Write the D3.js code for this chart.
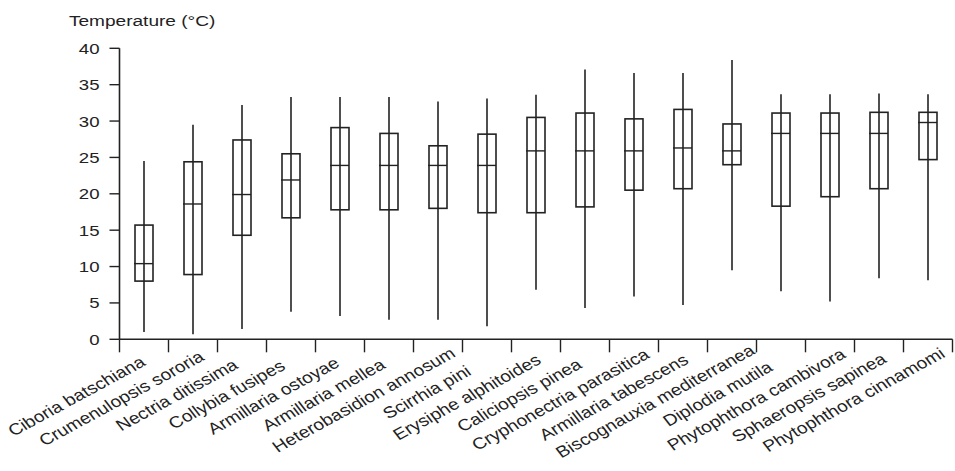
<!DOCTYPE html>
<html>
<head>
<meta charset="utf-8">
<script src="https://cdn.jsdelivr.net/npm/d3@7"></script>
<style>
  html, body { margin: 0; padding: 0; background: #fff; }
  svg { display: block; }
  text { font-family: "Liberation Sans", Arial, Helvetica, sans-serif; fill: #222; }
</style>
</head>
<body>
<svg id="chart" width="955" height="471"></svg>
<script>
const categories = [
  "Ciboria batschiana", "Crumenulopsis sororia", "Nectria ditissima", "Collybia fusipes",
  "Armillaria ostoyae", "Armillaria mellea", "Heterobasidion annosum", "Scirrhia pini",
  "Erysiphe alphitoides", "Caliciopsis pinea", "Cryphonectria parasitica", "Armillaria tabescens",
  "Biscognauxia mediterranea", "Diplodia mutila", "Phytophthora cambivora", "Sphaeropsis sapinea",
  "Phytophthora cinnamomi"
];
const whiskerLow  = [1.0, 0.7, 1.4, 3.8, 3.2, 2.7, 2.7, 1.8, 6.8, 4.3, 5.9, 4.7, 9.5, 6.6, 5.2, 8.4, 8.1];
const q1          = [8.0, 8.9, 14.3, 16.7, 17.8, 17.8, 18.0, 17.4, 17.4, 18.2, 20.5, 20.7, 24.0, 18.3, 19.6, 20.7, 24.7];
const median      = [10.4, 18.6, 19.9, 21.9, 23.9, 23.9, 23.9, 23.9, 25.9, 25.9, 25.9, 26.3, 25.9, 28.3, 28.3, 28.3, 29.8];
const q3          = [15.7, 24.4, 27.4, 25.5, 29.1, 28.3, 26.6, 28.2, 30.5, 31.1, 30.3, 31.6, 29.6, 31.1, 31.1, 31.2, 31.2];
const whiskerHigh = [24.5, 29.5, 32.2, 33.3, 33.3, 33.3, 32.7, 33.1, 33.6, 37.1, 36.6, 36.6, 38.4, 33.7, 33.7, 33.8, 33.7];
const yTicks = [0, 5, 10, 15, 20, 25, 30, 35, 40];
const yTitle = "Temperature (°C)";

const data = categories.map((c, i) => ({
  name: c, lo: whiskerLow[i], q1: q1[i], med: median[i], q3: q3[i], hi: whiskerHigh[i]
}));

const ink = "#222";
const SX = 1.2; // horizontal stretch of lettering in the reference
const svg = d3.select("#chart");

const x = d3.scaleBand().domain(categories).range([119.5, 952.5]).padding(0);
const y = d3.scaleLinear().domain([0, 40]).range([339.3, 48.3]);

// Y axis
const yAxis = svg.append("g");
yAxis.append("line")
  .attr("x1", x.range()[0]).attr("x2", x.range()[0])
  .attr("y1", y(40)).attr("y2", y(0))
  .attr("stroke", ink).attr("stroke-width", 1.6);
const yt = yAxis.selectAll(".yt").data(yTicks).join("g").attr("class", "yt");
yt.append("line")
  .attr("x1", x.range()[0] - 10).attr("x2", x.range()[0])
  .attr("y1", d => y(d)).attr("y2", d => y(d))
  .attr("stroke", ink).attr("stroke-width", 1.4);
yt.append("text")
  .attr("transform", d => `translate(${x.range()[0] - 20},${y(d) + 5.5}) scale(${SX},1)`)
  .attr("text-anchor", "end")
  .attr("font-size", 15.5)
  .text(d => d);

// Y title
svg.append("text")
  .attr("transform", `translate(69,26) scale(1.23,1)`)
  .attr("font-size", 15.5)
  .text(yTitle);

// X axis
const xAxis = svg.append("g");
xAxis.append("line")
  .attr("x1", x.range()[0]).attr("x2", x.range()[1])
  .attr("y1", y(0)).attr("y2", y(0))
  .attr("stroke", ink).attr("stroke-width", 1.6);
const boundaries = categories.map(c => x(c)).concat([x.range()[1]]);
xAxis.selectAll(".xt").data(boundaries).join("line").attr("class", "xt")
  .attr("x1", d => d).attr("x2", d => d)
  .attr("y1", y(0)).attr("y2", y(0) + 13)
  .attr("stroke", ink).attr("stroke-width", 1.4);

const labels = xAxis.selectAll(".xl").data(categories).join("text").attr("class", "xl")
  .attr("text-anchor", "end")
  .attr("font-size", 16)
  .attr("transform", d => `translate(${x(d) + x.bandwidth() / 2 - 44},${390}) scale(${SX},1) rotate(-33)`)
  .text(d => d);
labels.each(function() {
  const L = this.getComputedTextLength();
  d3.select(this).attr("dx", 0.35 * L);
});

// Boxes
const bw = 18;
const g = svg.append("g").selectAll("g").data(data).join("g")
  .attr("transform", d => `translate(${x(d.name) + x.bandwidth() / 2},0)`);
g.append("line")
  .attr("x1", 0).attr("x2", 0)
  .attr("y1", d => y(d.hi)).attr("y2", d => y(d.lo))
  .attr("stroke", ink).attr("stroke-width", 1.6);
g.append("rect")
  .attr("x", -bw / 2).attr("width", bw)
  .attr("y", d => y(d.q3)).attr("height", d => y(d.q1) - y(d.q3))
  .attr("fill", "none").attr("stroke", ink).attr("stroke-width", 1.6);
g.append("line")
  .attr("x1", -bw / 2 - 1).attr("x2", bw / 2)
  .attr("y1", d => y(d.med)).attr("y2", d => y(d.med))
  .attr("stroke", ink).attr("stroke-width", 1.4);
</script>
</body>
</html>
